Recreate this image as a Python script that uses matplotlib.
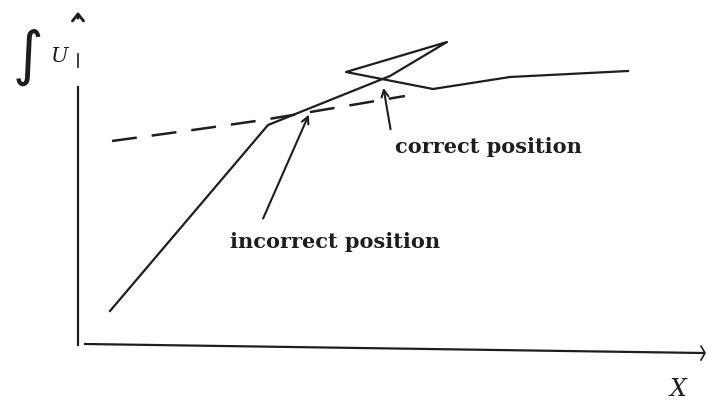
import matplotlib
matplotlib.use("Agg")
import matplotlib.pyplot as plt

# Data (in image-like units: x to the right, y downward)
solid_x = [110, 268, 390, 447, 346, 433, 510, 628]
solid_y = [312, 126, 77, 43, 73, 90, 78, 72]
dash_x = [112, 200, 263, 340, 405]
dash_y = [142, 130, 121, 108, 97]

labels = ["incorrect position", "correct position"]
label_pos = [(230, 242), (395, 147)]
arrow_tails = [(262, 222), (391, 133)]
arrow_heads = [(310, 113), (383, 86)]

fig = plt.figure(figsize=(7.07, 4.06), dpi=100)
ax = fig.add_axes([0, 0, 1, 1])
ax.set_xlim(0, 707)
ax.set_ylim(406, 0)
ax.axis("off")

ink = "#1e1e1e"

# axes
ax.plot([78, 78], [88, 346], color=ink, lw=1.6)
ax.plot([78, 78], [55, 68], color=ink, lw=1.2)
ax.annotate("", xy=(78, 10), xytext=(78, 22),
            arrowprops=dict(arrowstyle="->,head_length=0.5,head_width=0.4", color=ink, lw=2))
ax.plot([85, 703], [345, 354], color=ink, lw=1.6)
ax.plot([701, 705, 701], [347, 354, 361], color=ink, lw=1.2)

# curves
ax.plot(solid_x, solid_y, color=ink, lw=1.6)
ax.plot(dash_x, dash_y, color=ink, lw=1.8, dashes=(10, 6))

for lab, (lx, ly), t, h in zip(labels, label_pos, arrow_tails, arrow_heads):
    ax.text(lx, ly, lab, fontsize=15, family="DejaVu Serif", fontweight="bold",
            color=ink, ha="left", va="center")
    ax.annotate("", xy=h, xytext=t,
                arrowprops=dict(arrowstyle="->,head_length=0.5,head_width=0.25",
                                color=ink, lw=1.5))

ax.text(12, 58, r"$\int$", fontsize=30, color=ink, ha="left", va="center")
ax.text(50, 56, "U", fontsize=15, style="italic", family="DejaVu Serif", color=ink,
        ha="left", va="center")
ax.text(678, 390, "X", fontsize=17, style="italic", family="DejaVu Serif", color=ink,
        ha="center", va="center")

fig.savefig("out.png", dpi=100)
